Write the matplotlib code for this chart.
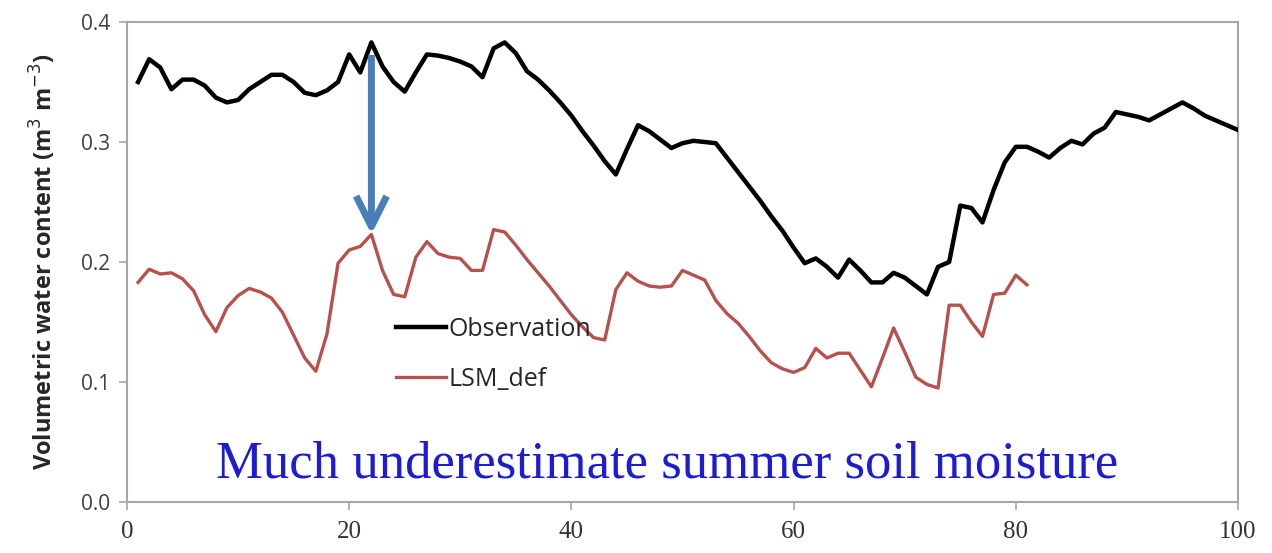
import matplotlib
matplotlib.use("Agg")
import matplotlib.pyplot as plt
import numpy as np

# Daily series (day index starts at 1)
obs_values = [
    0.350, 0.369, 0.362, 0.344, 0.352, 0.352, 0.347, 0.337, 0.333, 0.335,
    0.344, 0.350, 0.356, 0.356, 0.350, 0.341, 0.339, 0.343, 0.350, 0.373,
    0.358, 0.383, 0.363, 0.350, 0.342, 0.358, 0.373, 0.372, 0.370, 0.367,
    0.363, 0.354, 0.378, 0.383, 0.374, 0.359, 0.352, 0.343, 0.333, 0.322,
    0.309, 0.297, 0.284, 0.273, 0.294, 0.314, 0.309, 0.302, 0.295, 0.299,
    0.301, 0.300, 0.299, 0.287, 0.275, 0.263, 0.251, 0.238, 0.226, 0.212,
    0.199, 0.203, 0.196, 0.187, 0.202, 0.193, 0.183, 0.183, 0.191, 0.187,
    0.180, 0.173, 0.196, 0.200, 0.247, 0.245, 0.233, 0.260, 0.283, 0.296,
    0.296, 0.292, 0.287, 0.295, 0.301, 0.298, 0.307, 0.312, 0.325, 0.323,
    0.321, 0.318, 0.323, 0.328, 0.333, 0.328, 0.322, 0.318, 0.314, 0.310,
]
lsm_values = [
    0.183, 0.194, 0.190, 0.191, 0.186, 0.176, 0.156, 0.142, 0.162, 0.172,
    0.178, 0.175, 0.170, 0.158, 0.139, 0.120, 0.109, 0.140, 0.199, 0.210,
    0.213, 0.223, 0.193, 0.173, 0.171, 0.204, 0.217, 0.207, 0.204, 0.203,
    0.193, 0.193, 0.227, 0.225, 0.214, 0.202, 0.191, 0.180, 0.168, 0.156,
    0.146, 0.137, 0.135, 0.177, 0.191, 0.184, 0.180, 0.179, 0.180, 0.193,
    0.189, 0.185, 0.168, 0.157, 0.149, 0.138, 0.126, 0.116, 0.111, 0.108,
    0.112, 0.128, 0.120, 0.124, 0.124, 0.110, 0.096, 0.120, 0.145, 0.125,
    0.104, 0.098, 0.095, 0.164, 0.164, 0.150, 0.138, 0.173, 0.174, 0.189,
    0.181,
]
obs_days = np.arange(1, len(obs_values) + 1)
lsm_days = np.arange(1, len(lsm_values) + 1)

x_ticks = [0, 20, 40, 60, 80, 100]
y_ticks = [0.0, 0.1, 0.2, 0.3, 0.4]
y_tick_labels = ["0.0", "0.1", "0.2", "0.3", "0.4"]

# Arrow pointing at the model peak on day 22
arrow_day = 22
arrow_top = 0.3725
arrow_tip = lsm_values[arrow_day - 1]

fig = plt.figure(figsize=(12.72, 5.53), dpi=100)
ax = fig.add_axes([0.0998, 0.0922, 0.8735, 0.868])

spine_gray = "#A6A6A6"
ax.plot(obs_days, obs_values, color="black", lw=3.2, label="Observation",
        solid_joinstyle="round", zorder=3)
ax.plot(lsm_days, lsm_values, color="#B8504D", lw=2.4, label="LSM_def",
        solid_joinstyle="round", zorder=3)

ax.annotate("", xy=(arrow_day, arrow_tip), xytext=(arrow_day, arrow_top),
            arrowprops=dict(arrowstyle="->,head_length=1.1,head_width=0.55",
                            mutation_scale=20, color="#4A7EBB", lw=5,
                            shrinkA=0, shrinkB=0, capstyle="butt"),
            zorder=4)

ax.set_xlim(0, 100)
ax.set_ylim(0, 0.4)
ax.set_xticks(x_ticks)
ax.set_xticklabels([str(t) for t in x_ticks], family="Liberation Serif",
                   fontsize=18, color="#333333")
ax.set_yticks(y_ticks)
ax.set_yticklabels(y_tick_labels, family="Open Sans", fontsize=15,
                   color="#404040")
ax.tick_params(axis="both", direction="out", length=6, width=1.2,
               color=spine_gray)
ax.tick_params(axis="x", pad=8)
ax.tick_params(axis="y", pad=6)
for s in ax.spines.values():
    s.set_color(spine_gray)
    s.set_linewidth(1.5)

ax.set_ylabel(r"Volumetric water content (m$^3$ m$^{-3}$)", family="Open Sans",
              fontweight="bold", fontsize=17, color="#262626", labelpad=16)

leg = ax.legend(loc="center left", bbox_to_anchor=(0.222, 0.308), frameon=False,
                prop={"family": "Open Sans", "size": 18}, handlelength=2.0,
                handletextpad=0.1, labelspacing=1.0)
for t in leg.get_texts():
    t.set_color("#262626")

ax.text(48.6, 0.031, "Much underestimate summer soil moisture",
        family="Liberation Serif", fontsize=38, color="#1C1CD8",
        ha="center", va="center", zorder=5)

fig.savefig("out.png", dpi=100)
